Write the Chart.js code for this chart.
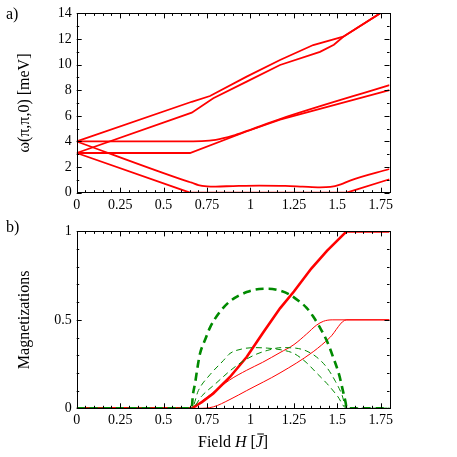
<!DOCTYPE html>
<html>
<head>
<meta charset="utf-8">
<script src="https://cdn.jsdelivr.net/npm/chart.js@4/dist/chart.umd.min.js"></script>
<style>
  body { margin: 0; background: #fff; }
  .panel { position: absolute; left: 0; }
</style>
</head>
<body>
<div class="panel" style="top:0"><canvas id="chartSpectrum" width="457" height="218"></canvas></div>
<div class="panel" style="top:218px"><canvas id="chartMag" width="457" height="239"></canvas></div>
<script>
// ==================== DATA ====================
const FIELD_TICKS = [0, 0.25, 0.5, 0.75, 1, 1.25, 1.5, 1.75];
const ENERGY_TICKS = [0, 2, 4, 6, 8, 10, 12, 14];
const MAG_TICKS = [0, 0.5, 1];

// panel a) : modes omega(pi,pi,0) vs field
const modeA_H = [0, 0.662, 0.767, 0.978, 1.17, 1.361, 1.534, 1.745];
const modeA_E = [4.0, 7.1, 7.55, 9.06, 10.36, 11.53, 12.18, 14.0];
const modeB_H = [0, 0.662, 0.786, 0.978, 1.17, 1.40, 1.48, 1.534, 1.745];
const modeB_E = [3.1, 6.25, 7.37, 8.67, 9.97, 11.0, 11.55, 12.18, 14.0];
const modeC_H = [0, 0.6, 0.72, 0.8, 0.9, 0.98, 1.17, 1.8];
const modeC_E = [4.0, 4.0, 4.02, 4.12, 4.45, 4.82, 5.75, 8.4];
const modeD_H = [0, 0.652, 0.98, 1.17, 1.8];
const modeD_E = [3.1, 3.1, 4.8, 5.7, 8.0];
const modeE_H = [0, 0.62, 0.662, 0.70, 0.75, 0.80, 0.9, 1.05, 1.2, 1.3, 1.40, 1.46, 1.52, 1.573, 1.8];
const modeE_E = [4.0, 0.96, 0.78, 0.6, 0.5, 0.48, 0.52, 0.56, 0.54, 0.48, 0.42, 0.45, 0.65, 0.95, 1.85];
const modeF_H = [0, 0.652, 1.553, 1.8];
const modeF_E = [3.1, 0, 0, 1.05];

// panel b) : magnetizations vs field
const mTotal_H = [0, 0.662, 0.72, 0.786, 0.882, 0.978, 1.074, 1.17, 1.25, 1.35, 1.44, 1.553, 1.8];
const mTotal_M = [0, 0, 0.035, 0.084, 0.177, 0.29, 0.43, 0.565, 0.66, 0.79, 0.89, 1, 1];
const mSubA_H = [0, 0.662, 0.72, 0.786, 0.88, 0.978, 1.07, 1.17, 1.25, 1.323, 1.38, 1.42, 1.47, 1.8];
const mSubA_M = [0, 0, 0.04, 0.09, 0.16, 0.215, 0.26, 0.315, 0.36, 0.42, 0.47, 0.492, 0.5, 0.5];
const mSubB_H = [0, 0.70, 0.786, 0.882, 0.978, 1.17, 1.361, 1.457, 1.553, 1.8];
const mSubB_M = [0, 0, 0.008, 0.05, 0.1, 0.2, 0.32, 0.4, 0.5, 0.5];
const mStag_H = [0, 0.662, 0.668, 0.681, 0.695, 0.709, 0.74, 0.767, 0.82, 0.882, 0.978, 1.05, 1.102, 1.16, 1.227, 1.28, 1.323, 1.36, 1.40, 1.44, 1.476, 1.51, 1.534, 1.548, 1.553, 1.8];
const mStag_M = [0, 0, 0.07, 0.14, 0.23, 0.307, 0.39, 0.456, 0.54, 0.605, 0.657, 0.674, 0.676, 0.668, 0.642, 0.605, 0.568, 0.52, 0.456, 0.38, 0.288, 0.19, 0.09, 0.03, 0, 0];
const mStagA_H = [0, 0.662, 0.70, 0.767, 0.844, 0.882, 0.95, 1.02, 1.10, 1.18, 1.25, 1.32, 1.38, 1.44, 1.50, 1.553, 1.8];
const mStagA_M = [0, 0, 0.10, 0.19, 0.27, 0.31, 0.335, 0.343, 0.34, 0.33, 0.31, 0.26, 0.20, 0.14, 0.07, 0, 0];
const mStagB_H = [0, 0.662, 0.72, 0.80, 0.88, 0.94, 1.02, 1.10, 1.18, 1.26, 1.32, 1.38, 1.44, 1.49, 1.525, 1.553, 1.8];
const mStagB_M = [0, 0, 0.07, 0.14, 0.21, 0.255, 0.30, 0.328, 0.343, 0.34, 0.325, 0.29, 0.23, 0.15, 0.08, 0, 0];

const RED = '#ff0000';
const GREEN = '#008a00';
const FONT = '"Liberation Serif", "Times New Roman", serif';

const pts = (xs, ys) => xs.map((x, i) => ({ x: x, y: ys[i] }));

// ==================== FRAME / TICKS / TITLES PLUGIN ====================
const framePlugin = {
  id: 'frame',
  afterDatasetsDraw(chart, args, opts) {
    const ctx = chart.ctx;
    const a = chart.chartArea;
    const xs = chart.scales.x, ys = chart.scales.y;
    ctx.save();
    ctx.strokeStyle = '#000';
    ctx.lineWidth = 1;
    ctx.strokeRect(Math.round(a.left) + 0.5, Math.round(a.top) + 0.5,
      Math.round(a.right - a.left), Math.round(a.bottom - a.top));

    ctx.beginPath();
    // x ticks, inside, top and bottom
    for (let v = xs.min; v <= xs.max + 1e-9; v += opts.xMinor) {
      const major = Math.abs(v / opts.xMajor - Math.round(v / opts.xMajor)) < 1e-6;
      const len = major ? 5 : 2.5;
      const px = Math.round(xs.getPixelForValue(v)) + 0.5;
      ctx.moveTo(px, a.bottom); ctx.lineTo(px, a.bottom - len);
      ctx.moveTo(px, a.top); ctx.lineTo(px, a.top + len);
    }
    // y ticks, inside, left and right
    for (let v = ys.min; v <= ys.max + 1e-9; v += opts.yMinor) {
      const major = Math.abs(v / opts.yMajor - Math.round(v / opts.yMajor)) < 1e-6;
      const len = major ? 5 : 2.5;
      const py = Math.round(ys.getPixelForValue(v)) + 0.5;
      ctx.moveTo(a.left, py); ctx.lineTo(a.left + len, py);
      ctx.moveTo(a.right, py); ctx.lineTo(a.right - len, py);
    }
    ctx.stroke();

    // y title, shrunk to the length seen in the figure
    ctx.fillStyle = '#000';
    ctx.textAlign = 'center';
    ctx.textBaseline = 'middle';
    let size = 16;
    ctx.font = size + 'px ' + FONT;
    const w = ctx.measureText(opts.yTitle).width;
    if (w > opts.yTitleLen) size = size * opts.yTitleLen / w;
    ctx.font = size.toFixed(1) + 'px ' + FONT;
    ctx.save();
    ctx.translate(25, (a.top + a.bottom) / 2);
    ctx.rotate(-Math.PI / 2);
    ctx.fillText(opts.yTitle, 0, 0);
    ctx.restore();

    // panel letter
    ctx.font = '16px ' + FONT;
    ctx.textAlign = 'left';
    ctx.fillText(opts.panel, 6, opts.panelY);

    // x title with italic parts, bar over J drawn by hand
    if (opts.xTitle) {
      const parts = opts.xTitle;
      let total = 0;
      parts.forEach(p => { ctx.font = (p.italic ? 'italic ' : '') + '16px ' + FONT; total += ctx.measureText(p.t).width; });
      let x = (a.left + a.right) / 2 - total / 2;
      parts.forEach(p => {
        ctx.font = (p.italic ? 'italic ' : '') + '16px ' + FONT;
        const pw = ctx.measureText(p.t).width;
        ctx.fillText(p.t, x, opts.xTitleY);
        if (p.bar) {
          ctx.fillRect(x + 1.5, opts.xTitleY - 9.5, pw - 0.5, 1);
        }
        x += pw;
      });
    }
    ctx.restore();
  }
};

function makeScales(xTicks, yTicks, yMin, yMax, xHeight) {
  return {
    x: {
      type: 'linear', min: 0, max: 1.8,
      grid: { display: false, drawTicks: false }, border: { display: false },
      afterBuildTicks: s => { s.ticks = xTicks.map(v => ({ value: v })); },
      afterFit: s => { s.height = xHeight; },
      ticks: { font: { family: FONT, size: 14 }, color: '#000', padding: 4, maxRotation: 0,
               callback: v => String(v) }
    },
    y: {
      type: 'linear', min: yMin, max: yMax,
      grid: { display: false, drawTicks: false }, border: { display: false },
      afterBuildTicks: s => { s.ticks = yTicks.map(v => ({ value: v })); },
      afterFit: s => { s.width = 76.7; },
      ticks: { font: { family: FONT, size: 14 }, color: '#000', padding: 5,
               callback: v => String(v) }
    }
  };
}

const baseOptions = {
  responsive: false,
  animation: false,
  events: [],
  plugins: { legend: { display: false }, tooltip: { enabled: false } }
};

// ==================== PANEL a) ====================
const line = (xs, ys, extra) => Object.assign({
  data: pts(xs, ys), borderColor: RED, borderWidth: 1.8, pointRadius: 0, tension: 0, fill: false
}, extra || {});

new Chart(document.getElementById('chartSpectrum').getContext('2d'), {
  type: 'line',
  data: {
    datasets: [
      line(modeA_H, modeA_E),
      line(modeB_H, modeB_E),
      line(modeC_H, modeC_E, { cubicInterpolationMode: 'monotone' }),
      line(modeD_H, modeD_E),
      line(modeE_H, modeE_E, { cubicInterpolationMode: 'monotone' }),
      line(modeF_H, modeF_E)
    ]
  },
  options: Object.assign({}, baseOptions, {
    layout: { padding: { top: 13.3, right: 67.5, left: 0, bottom: 0 } },
    scales: makeScales(FIELD_TICKS, ENERGY_TICKS, 0, 14, 25.3),
    plugins: Object.assign({}, baseOptions.plugins, {
      frame: { xMinor: 0.05, xMajor: 0.25, yMinor: 1, yMajor: 2,
               yTitle: 'ω(π,π,0) [meV]', yTitleLen: 105, panel: 'a)', panelY: 15 }
    })
  }),
  plugins: [framePlugin]
});

// ==================== PANEL b) ====================
new Chart(document.getElementById('chartMag').getContext('2d'), {
  type: 'line',
  data: {
    datasets: [
      line(mStag_H, mStag_M, { borderColor: GREEN, borderWidth: 2.6, borderDash: [8, 5], cubicInterpolationMode: 'monotone' }),
      line(mStagA_H, mStagA_M, { borderColor: GREEN, borderWidth: 1, borderDash: [6, 4], cubicInterpolationMode: 'monotone' }),
      line(mStagB_H, mStagB_M, { borderColor: GREEN, borderWidth: 1, borderDash: [6, 4], cubicInterpolationMode: 'monotone' }),
      line(mTotal_H, mTotal_M, { borderWidth: 2.6 }),
      line(mSubA_H, mSubA_M, { borderWidth: 1, cubicInterpolationMode: 'monotone' }),
      line(mSubB_H, mSubB_M, { borderWidth: 1, cubicInterpolationMode: 'monotone' })
    ]
  },
  options: Object.assign({}, baseOptions, {
    layout: { padding: { top: 11.3, right: 67.5, left: 0, bottom: 0 } },
    scales: makeScales(FIELD_TICKS, MAG_TICKS, 0, 1, 48.7),
    plugins: Object.assign({}, baseOptions.plugins, {
      frame: { xMinor: 0.05, xMajor: 0.25, yMinor: 0.1, yMajor: 0.5,
               yTitle: 'Magnetizations', yTitleLen: 200, panel: 'b)', panelY: 10,
               xTitle: [{ t: 'Field ' }, { t: 'H', italic: true }, { t: ' [' }, { t: 'J', italic: true, bar: true }, { t: ']' }],
               xTitleY: 225 }
    })
  }),
  plugins: [framePlugin]
});
</script>
</body>
</html>
